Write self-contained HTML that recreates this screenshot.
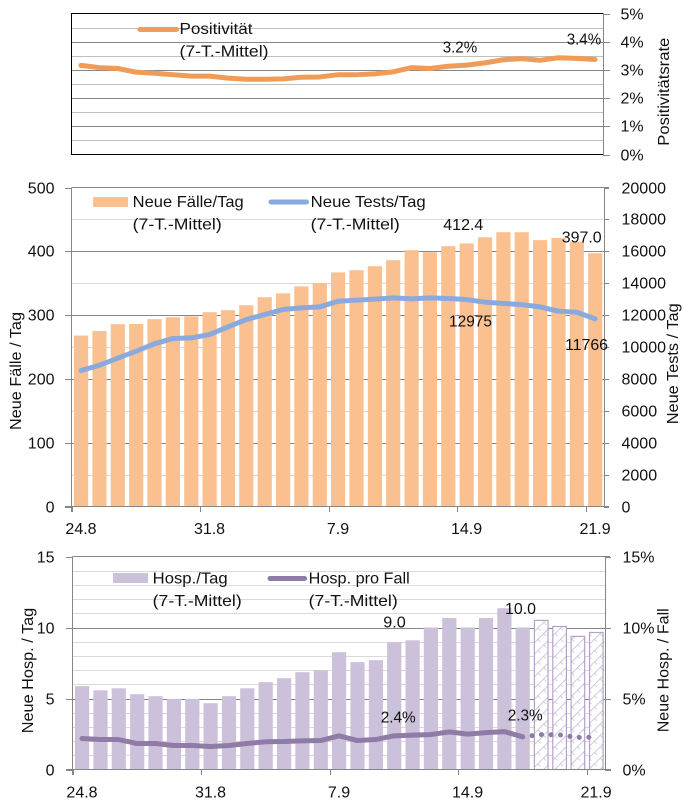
<!DOCTYPE html>
<html lang="de">
<head>
<meta charset="utf-8">
<title>Positivität, Fälle, Tests und Hospitalisierungen</title>
<style>
html,body{margin:0;padding:0;background:#fff;width:689px;height:808px;overflow:hidden}
svg{display:block}
text{font-family:"Liberation Sans",sans-serif;font-size:16px;fill:#111}
</style>
</head>
<body>
<svg id="root" xmlns="http://www.w3.org/2000/svg" width="689" height="808" viewBox="0 0 689 808">
<defs>
<pattern id="hatch" width="8" height="8" patternUnits="userSpaceOnUse" patternTransform="rotate(-45)">
<rect width="8" height="8" fill="#fff"/>
<line x1="0" y1="0" x2="8" y2="0" stroke="#C6BBD9" stroke-width="1.6"/>
<line x1="0" y1="0" x2="0" y2="4" stroke="#C6BBD9" stroke-width="1.4"/>
</pattern>
</defs>
</svg>
<script>
const dates = ['24.8','31.8','7.9','14.9','21.9'];
const positivity = [3.16,3.08,3.05,2.92,2.88,2.83,2.78,2.78,2.71,2.67,2.67,2.68,2.74,2.75,2.83,2.83,2.86,2.93,3.08,3.05,3.13,3.17,3.25,3.36,3.40,3.34,3.43,3.41,3.37];
const cases = [268,275,285.7,286,293.6,296.7,298,304.5,307.7,315.5,328,334,345,350.5,367,370.4,376.6,386,401.7,398.6,408,412.4,422,430,430,417.5,421,415,397];
const tests = [8527,8850,9300,9740,10200,10530,10570,10780,11260,11720,12035,12350,12450,12515,12870,12935,13000,13080,13020,13080,13040,12975,12810,12730,12660,12515,12245,12180,11766];
const hospSolid = [5.87,5.58,5.72,5.3,5.16,4.97,4.97,4.67,5.16,5.72,6.15,6.43,6.85,7.0,8.26,7.56,7.7,8.96,9.1,10,10.67,10,10.67,11.36,10.0];
const hospPartial = [10.5,10.07,9.37,9.65];
const hospRateSolid = [2.18,2.11,2.11,1.83,1.83,1.69,1.69,1.62,1.69,1.83,1.95,1.97,2.02,2.04,2.37,2.04,2.11,2.37,2.42,2.46,2.65,2.49,2.6,2.67,2.3];
const hospRatePartial = [2.46,2.44,2.25,2.28];
const posTicks = ['0%','1%','2%','3%','4%','5%'];
const casesTicks = ['0','100','200','300','400','500'];
const testsTicks = ['0','2000','4000','6000','8000','10000','12000','14000','16000','18000','20000'];
const hospTicks = ['0','5','10','15'];
const hospRateTicks = ['0%','5%','10%','15%'];

const svg = document.getElementById('root');
const NS = 'http://www.w3.org/2000/svg';
function mk(tag, attrs, parent) {
  const el = document.createElementNS(NS, tag);
  for (const k in attrs) el.setAttribute(k, attrs[k]);
  (parent || svg).appendChild(el);
  return el;
}
function label(parent, str, x, y, opts) {
  const o = opts || {};
  const t = mk('text', {x: x, y: y}, parent);
  if (o.anchor) t.setAttribute('text-anchor', o.anchor);
  if (o.len) { t.setAttribute('textLength', o.len); t.setAttribute('lengthAdjust', 'spacingAndGlyphs'); }
  if (o.rot) t.setAttribute('transform', 'rotate(-90 ' + x + ' ' + y + ')');
  t.textContent = str;
  return t;
}
function hline(parent, x1, x2, y, color) {
  return mk('line', {x1: x1, x2: x2, y1: y, y2: y, stroke: color, 'stroke-width': 1, 'shape-rendering': 'crispEdges'}, parent);
}
function vline(parent, x, y1, y2, color) {
  return mk('line', {x1: x, x2: x, y1: y1, y2: y2, stroke: color, 'stroke-width': 1, 'shape-rendering': 'crispEdges'}, parent);
}
function linePath(values, xf, yf, offset) {
  return values.map((v, i) => (i ? 'L' : 'M') + xf(i + (offset || 0)).toFixed(2) + ' ' + yf(v).toFixed(2)).join(' ');
}
const STEP = 18.36;
const AXIS = '#868686';
const LINE_W = 5;

/* ---------- top chart: positivity ---------- */
const g1 = mk('g', {});


const x1 = i => 81 + i * STEP;
const y1 = v => 154.5 - v * (141 / 5);
for (let v = 0.5; v < 5; v += 0.5) {
  const gl = hline(g1, 72, 603, Math.round(y1(v)) + 0.5, Number.isInteger(v) ? '#868686' : '#BFBFBF');
  
  
}
const box = mk('path', {d: 'M603.5 13.5H71.5V154.5H603.5', fill: 'none', stroke: '#000', 'stroke-width': 1, 'shape-rendering': 'crispEdges'}, g1);


const r1 = vline(g1, 603.5, 13, 155, AXIS);


posTicks.forEach((t, i) => {
  const y = Math.round(y1(i)) + 0.5;
  const tk = hline(g1, 603, 610, y, AXIS);
  
  
  const l = label(g1, t, 620.5, y + 5);
  
  
});
const posLine = mk('path', {d: linePath(positivity, x1, y1), fill: 'none', stroke: '#EE9C58', 'stroke-width': LINE_W, 'stroke-linecap': 'round', 'stroke-linejoin': 'round'}, g1);


const leg1 = mk('line', {x1: 140, x2: 176.5, y1: 29.5, y2: 29.5, stroke: '#EE9C58', 'stroke-width': LINE_W, 'stroke-linecap': 'round'}, g1);


const leg1a = label(g1, 'Positivität', 179.5, 34, {len: 73});


const leg1b = label(g1, '(7-T.-Mittel)', 179.5, 56.5, {len: 89});


const dl1 = label(g1, '3.2%', 442.7, 52.7, {len: 34.5});


const dl2 = label(g1, '3.4%', 566.7, 44.7, {len: 34.5});


const t1 = label(g1, 'Positivitätsrate', 669, 145.7, {rot: true, len: 108});



/* ---------- middle chart: cases and tests ---------- */
const g2 = mk('g', {});


const x2 = i => 81 + i * STEP;
const y2 = v => 506.5 - v * (319 / 500);
const y2r = v => 506.5 - v * (319 / 20000);
for (let v = 50; v < 500; v += 50) {
  const gl = hline(g2, 72, 604, Math.round(y2(v)) + 0.5, v % 100 === 0 ? '#868686' : '#D9D9D9');
  
  
}
cases.forEach((v, i) => {
  const b = mk('rect', {x: (x2(i) - 7).toFixed(1), y: y2(v).toFixed(1), width: 14.2, height: (506.5 - y2(v)).toFixed(1), fill: '#FAC090'}, g2);
  
  
});
const frame2 = mk('path', {d: 'M71.5 187.5H609M604.5 187.5V506.5M71.5 187.5V512M65 506.5H609', fill: 'none', stroke: AXIS, 'stroke-width': 1, 'shape-rendering': 'crispEdges'}, g2);


casesTicks.forEach(t => {
  const y = Math.round(y2(+t)) + 0.5;
  const tk = hline(g2, 65, 72, y, AXIS);
  
  
  const l = label(g2, t, 54.5, y + 5, {anchor: 'end'});
  
  
});
testsTicks.forEach(t => {
  const y = Math.round(y2r(+t)) + 0.5;
  const tk = hline(g2, 604, 609, y, AXIS);
  
  
  const l = label(g2, t, 621.5, y + 5);
  
  
});
dates.forEach((d, i) => {
  const tx = Math.round(71.8 + i * 7 * STEP) + 0.5;
  const tk = vline(g2, tx, 506, 512, AXIS);
  
  
  const l = label(g2, d, x2(i * 7), 534, {anchor: 'middle'});
  
  
});
const testsLine = mk('path', {d: linePath(tests, x2, y2r), fill: 'none', stroke: '#8AA9DC', 'stroke-width': LINE_W, 'stroke-linecap': 'round', 'stroke-linejoin': 'round'}, g2);


const lg2a = mk('rect', {x: 93, y: 197, width: 35, height: 10, fill: '#FAC090'}, g2);


const lg2b = label(g2, 'Neue Fälle/Tag', 132.7, 207, {len: 111});


const lg2c = label(g2, '(7-T.-Mittel)', 132.7, 229.3, {len: 89});


const lg2d = mk('line', {x1: 271, x2: 306.5, y1: 202, y2: 202, stroke: '#8AA9DC', 'stroke-width': LINE_W, 'stroke-linecap': 'round'}, g2);


const lg2e = label(g2, 'Neue Tests/Tag', 310.7, 207, {len: 115});


const lg2f = label(g2, '(7-T.-Mittel)', 310.7, 229.3, {len: 89});


const dl3 = label(g2, '412.4', 443.3, 230, {len: 40});


const dl4 = label(g2, '397.0', 561.7, 242.7, {len: 40});


const dl5 = label(g2, '12975', 449, 326.7, {len: 43});


const dl6 = label(g2, '11766', 565, 350, {len: 43});


const t2 = label(g2, 'Neue Fälle / Tag', 21, 430, {rot: true, len: 118});


const t3 = label(g2, 'Neue Tests / Tag', 678, 424.3, {rot: true, len: 121});



/* ---------- bottom chart: hospitalisations ---------- */
const g3 = mk('g', {});


const x3 = i => 82 + i * STEP;
const y3 = v => 769.5 - v * (213 / 15);
for (let v = 1; v < 15; v += 1) {
  const gl = hline(g3, 73, 605, Math.round(y3(v)) + 0.5, v % 5 === 0 ? '#868686' : '#D9D9D9');
  
  
}
hospSolid.forEach((v, i) => {
  const b = mk('rect', {x: (x3(i) - 7).toFixed(1), y: y3(v).toFixed(1), width: 14.2, height: (769.5 - y3(v)).toFixed(1), fill: '#CCC1DA'}, g3);
  
  
});
hospPartial.forEach((v, i) => {
  const cx = x3(i + hospSolid.length);
  const b = mk('rect', {x: (cx - 6.6).toFixed(1), y: y3(v).toFixed(1), width: 13.6, height: (769.5 - y3(v)).toFixed(1), fill: 'url(#hatch)', stroke: '#B3A2C7', 'stroke-width': 1.2}, g3);
  
  
});
const frame3 = mk('path', {d: 'M72.5 556.5H610M605.5 556.5V769.5M72.5 556.5V775M66 769.5H611', fill: 'none', stroke: AXIS, 'stroke-width': 1, 'shape-rendering': 'crispEdges'}, g3);


hospTicks.forEach(t => {
  const y = Math.round(y3(+t)) + 0.5;
  const tk = hline(g3, 66, 73, y, AXIS);
  
  
  const l = label(g3, t, 54.5, y + 5, {anchor: 'end'});
  
  
});
hospRateTicks.forEach(t => {
  const y = Math.round(y3(parseFloat(t))) + 0.5;
  const tk = hline(g3, 605, 611, y, AXIS);
  
  
  const l = label(g3, t, 622.5, y + 5);
  
  
});
dates.forEach((d, i) => {
  const tx = Math.round(72.8 + i * 7 * STEP) + 0.5;
  const tk = vline(g3, tx, 769, 775, AXIS);
  
  
  const l = label(g3, d, x3(i * 7), 797.5, {anchor: 'middle'});
  
  
});
const rateLine = mk('path', {d: linePath(hospRateSolid, x3, y3), fill: 'none', stroke: '#8E7BA6', 'stroke-width': LINE_W, 'stroke-linecap': 'round', 'stroke-linejoin': 'round'}, g3);


const lastSolid = hospRateSolid.slice(-1);
const rateDots = mk('path', {d: linePath(lastSolid.concat(hospRatePartial), x3, y3, hospRateSolid.length - 1), fill: 'none', stroke: '#8E7BA6', 'stroke-width': LINE_W, 'stroke-linecap': 'round', 'stroke-dasharray': '0 9.5'}, g3);


const lg3a = mk('rect', {x: 113, y: 573, width: 35, height: 10, fill: '#CCC1DA'}, g3);


const lg3b = label(g3, 'Hosp./Tag', 152.7, 583.3, {len: 75});


const lg3c = label(g3, '(7-T.-Mittel)', 152.7, 606, {len: 89});


const lg3d = mk('line', {x1: 270, x2: 304.5, y1: 578.5, y2: 578.5, stroke: '#8E7BA6', 'stroke-width': LINE_W, 'stroke-linecap': 'round'}, g3);


const lg3e = label(g3, 'Hosp. pro Fall', 308.7, 583.3, {len: 101});


const lg3f = label(g3, '(7-T.-Mittel)', 308.7, 606, {len: 89});


const dl7 = label(g3, '9.0', 383.3, 627.7, {len: 22.5});


const dl8 = label(g3, '10.0', 505, 614, {len: 31});


const dl9 = label(g3, '2.4%', 380.7, 722.7, {len: 35});


const dl10 = label(g3, '2.3%', 507.7, 720.5, {len: 35});


const t4 = label(g3, 'Neue Hosp. / Tag', 33, 733.3, {rot: true, len: 125.5});


const t5 = label(g3, 'Neue Hosp. / Fall', 668.3, 732.3, {rot: true, len: 124});


</script>
</body>
</html>
